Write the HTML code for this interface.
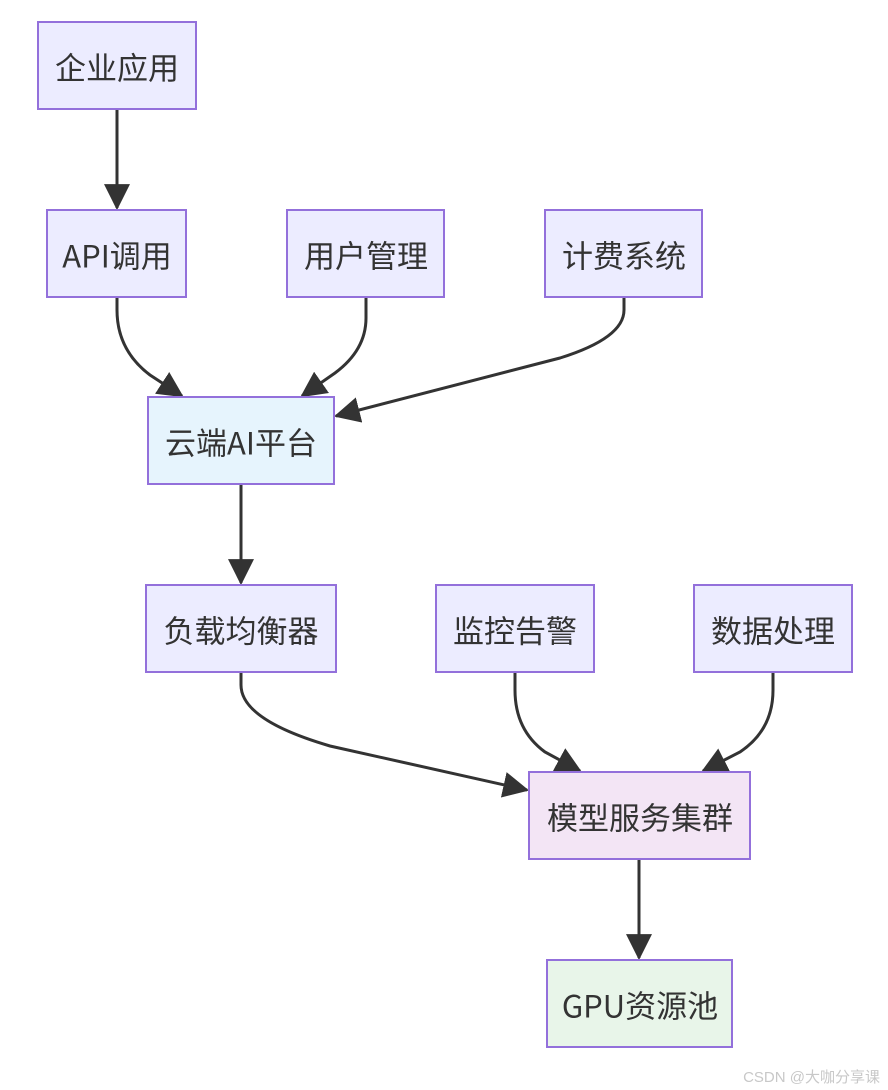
<!DOCTYPE html>
<html><head><meta charset="utf-8"><style>
html,body{margin:0;padding:0;background:#fff;}
svg{display:block;}
text{font-family:"Noto Sans CJK SC","Liberation Sans",sans-serif;font-size:31px;fill:#333;}
</style></head><body>
<svg width="888" height="1090" viewBox="0 0 888 1090" xmlns="http://www.w3.org/2000/svg">
<defs>
<marker id="m" viewBox="0 0 12 12" refX="11" refY="6" markerWidth="26" markerHeight="26" markerUnits="userSpaceOnUse" orient="auto">
<path d="M0,0 L12,6 L0,12 z" fill="#333"/>
</marker>
</defs>
<g fill="none" stroke="#333" stroke-width="3" marker-end="url(#m)">
<path d="M117,109 L117,208"/>
<path d="M117,297 L117,310 Q117,350 150,375 L182,396"/>
<path d="M366,297 L366,318 Q366,350 335,373 L302,396"/>
<path d="M624,297 L624,310 Q624,338 560,358 L336,416"/>
<path d="M241,484 L241,583"/>
<path d="M241,672 L241,685 Q241,720 330,746 L527,790"/>
<path d="M515,672 L515,690 Q515,730 545,752 L580,771"/>
<path d="M773,672 L773,690 Q773,730 740,752 L703,771"/>
<path d="M639,859 L639,958"/>
</g>
<g stroke="#9370db" stroke-width="2">
<rect x="38" y="22" width="158" height="87" fill="#ececff"/>
<rect x="47" y="210" width="139" height="87" fill="#ececff"/>
<rect x="287" y="210" width="157" height="87" fill="#ececff"/>
<rect x="545" y="210" width="157" height="87" fill="#ececff"/>
<rect x="148" y="397" width="186" height="87" fill="#e6f4fd"/>
<rect x="146" y="585" width="190" height="87" fill="#ececff"/>
<rect x="436" y="585" width="158" height="87" fill="#ececff"/>
<rect x="694" y="585" width="158" height="87" fill="#ececff"/>
<rect x="529" y="772" width="221" height="87" fill="#f3e5f5"/>
<rect x="547" y="960" width="185" height="87" fill="#e8f5e9"/>
</g>
<g text-anchor="middle" dominant-baseline="central">
<text x="117" y="66">企业应用</text>
<text x="117" y="254">API调用</text>
<text x="366" y="254">用户管理</text>
<text x="624" y="254">计费系统</text>
<text x="241" y="441">云端AI平台</text>
<text x="241" y="629">负载均衡器</text>
<text x="515" y="629">监控告警</text>
<text x="773" y="629">数据处理</text>
<text x="640" y="816">模型服务集群</text>
<text x="640" y="1004">GPU资源池</text>
</g>
<text x="880" y="1082" text-anchor="end" style="font-family:'Liberation Sans','Noto Sans CJK SC',sans-serif;font-size:15px;fill:#c8c8c8">CSDN @大咖分享课</text>
</svg>
</body></html>
